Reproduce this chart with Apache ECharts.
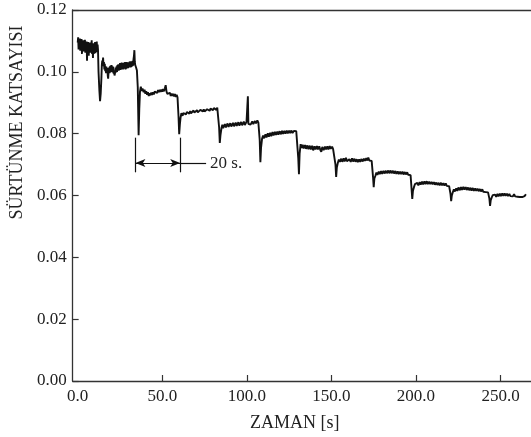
<!DOCTYPE html>
<html>
<head>
<meta charset="utf-8">
<script src="https://cdn.jsdelivr.net/npm/echarts@6/dist/echarts.min.js"></script>
<style>
html,body{margin:0;padding:0;background:#fff;}
#c{width:531px;height:437px;}
</style>
</head>
<body>
<div id="c"></div>
<script>
// ---- data (time [s], friction coefficient), one array per load step ----
var seg1 = [[0,0.1095],[0.25,0.1112],[0.5,0.1072],[0.75,0.1105],[1,0.1078],[1.25,0.1108],[1.5,0.1068],[1.75,0.1098],[2,0.1075],[2.25,0.1106],[2.5,0.1058],[2.75,0.1092],[3,0.1072],[3.25,0.1102],[3.5,0.1066],[3.75,0.1098],[4,0.1074],[4.25,0.1104],[4.5,0.1062],[4.75,0.1094],[5,0.107],[5.25,0.1098],[5.5,0.1036],[5.75,0.1092],[6,0.1072],[6.25,0.1096],[6.5,0.1052],[6.75,0.1088],[7,0.1066],[7.25,0.1094],[7.5,0.1062],[7.75,0.1095],[8,0.1068],[8.25,0.1102],[8.5,0.1058],[8.75,0.1088],[9,0.1045],[9.25,0.1092],[9.5,0.1058],[9.75,0.1084],[10,0.1064],[10.25,0.1096],[10.5,0.106],[10.75,0.1092],[11,0.1068],[11.25,0.1098],[11.5,0.1064],[11.75,0.1088],[12,0.107]];
var seg2 = [[12.3,0.100],[12.8,0.094],[13.2,0.0905],[13.6,0.093],[14,0.098],[14.25,0.1022],[14.5,0.1036],[14.75,0.1025],[15,0.1046],[15.25,0.1018],[15.5,0.1032],[15.75,0.1008],[16,0.1026],[16.25,0.1002],[16.5,0.1018],[16.75,0.0996],[17,0.1016],[17.25,0.0998],[17.5,0.1012],[17.75,0.0988],[18,0.0978],[18.25,0.1002],[18.5,0.1014],[18.75,0.0996],[19,0.1018],[19.25,0.0998],[19.5,0.102],[19.75,0.1],[20,0.1022],[20.25,0.1002],[20.5,0.1018],[20.75,0.0998],[21,0.1016],[21.25,0.0994],[21.5,0.1004],[21.75,0.0988],[22,0.0984],[22.25,0.1002],[22.5,0.1014],[22.75,0.0998],[23,0.1018],[23.25,0.1],[23.5,0.1022],[23.75,0.1004],[24,0.1024],[24.25,0.1004],[24.5,0.1022],[24.75,0.1006],[25,0.1028],[25.25,0.1006],[25.5,0.1024],[25.75,0.1008],[26,0.103],[26.25,0.101],[26.5,0.1026],[26.75,0.1008],[27,0.1028],[27.25,0.101],[27.5,0.103],[27.75,0.1012],[28,0.1032],[28.25,0.1008],[28.5,0.1026],[28.75,0.101],[29,0.1032],[29.25,0.1012],[29.5,0.1028],[29.75,0.1012],[30,0.103],[30.25,0.1014],[30.5,0.1032],[30.75,0.1014],[31,0.1034],[31.25,0.1014],[31.5,0.103],[31.75,0.1016],[32,0.1034],[32.25,0.1018],[32.5,0.1036],[32.75,0.102],[33,0.1042],[33.25,0.1052],[33.5,0.107],[33.75,0.1032],[34,0.1022],[34.5,0.1014],[35,0.1004]];
var seg3 = [[35.5,0.095],[36,0.0795],[36.4,0.088],[36.8,0.0935],[37.3,0.0952],[37.8,0.0938],[38.3,0.0946],[39,0.0934],[39.5,0.0942],[40,0.0929],[40.5,0.0937],[41,0.0926],[41.5,0.0934],[42,0.0922],[42.5,0.0931],[43,0.0924],[43.5,0.0933],[44,0.0925],[44.5,0.0934],[45,0.0927],[45.5,0.0936],[46,0.093],[46.5,0.0939],[47,0.0932],[47.5,0.0941],[48,0.0934],[48.5,0.0942],[49,0.0935],[49.5,0.0943],[50,0.0936],[50.5,0.0944],[51,0.0937],[51.5,0.0946],[52,0.0957],[52.5,0.0936],[53,0.0929],[53.5,0.0935],[54,0.0925],[54.5,0.0932],[55,0.0922],[55.5,0.093],[56,0.0922],[56.5,0.0929],[57,0.092],[57.5,0.0928],[58,0.0919],[58.5,0.0926],[59,0.0918],[59.3,0.0915]];
var seg4 = [[59.6,0.0855],[60,0.0798],[60.4,0.083],[60.8,0.0852],[61.3,0.0866],[62,0.0858],[62.5,0.0867],[63,0.0861],[63.5,0.0869],[64,0.0862],[64.5,0.087],[65,0.0864],[65.5,0.0871],[66,0.0865],[66.5,0.0873],[67,0.0866],[67.5,0.0872],[68,0.0867],[68.5,0.0875],[69,0.0868],[69.5,0.0874],[70,0.0869],[70.5,0.0876],[71,0.0869],[71.5,0.0875],[72,0.087],[72.5,0.0877],[73,0.0871],[73.5,0.0876],[74,0.0872],[74.5,0.0879],[75,0.0872],[75.5,0.0878],[76,0.0873],[76.5,0.0879],[77,0.0874],[77.5,0.088],[78,0.0874],[78.5,0.0881],[79,0.0875],[79.5,0.0881],[80,0.0876],[80.5,0.0883],[81,0.0877],[81.5,0.0882],[82,0.0877],[82.5,0.0884],[83,0.0879],[83.3,0.0878]];
var seg5 = [[83.6,0.082],[84,0.077],[84.4,0.0795],[85,0.0818],[85.5,0.0829],[86,0.0818],[87,0.0831],[87.6,0.082],[88.6,0.0833],[89.2,0.0822],[90.2,0.0834],[90.8,0.0823],[91.8,0.0835],[92.4,0.0824],[93.4,0.0836],[94,0.0825],[95,0.0837],[95.6,0.0826],[96.6,0.0838],[97.2,0.0827],[98.2,0.0839],[98.8,0.0828],[99.8,0.0838],[100.3,0.0832],[100.6,0.0921],[100.9,0.0832],[101.6,0.0838],[102.2,0.0829],[103.2,0.084],[103.8,0.0831],[104.8,0.0841],[105.4,0.0833],[106.2,0.0843],[106.8,0.0836],[107.3,0.0839]];
var seg6 = [[107.6,0.078],[108,0.0708],[108.4,0.0755],[109,0.0784],[109.6,0.0794],[110.2,0.0785],[111,0.0798],[111.6,0.0788],[112.4,0.0801],[113,0.079],[113.8,0.0803],[114.4,0.0792],[115.2,0.0805],[115.8,0.0794],[116.6,0.0806],[117.2,0.0796],[118,0.0807],[118.6,0.0797],[119.4,0.0808],[120,0.0798],[120.8,0.0809],[121.4,0.0799],[122.2,0.0809],[122.8,0.08],[123.6,0.081],[124.2,0.0801],[125,0.081],[125.6,0.0802],[126.4,0.081],[127,0.0802],[127.8,0.0809],[128.4,0.0803],[129.2,0.0808],[129.8,0.0803],[130.2,0.0805]];
var seg7 = [[130.4,0.072],[130.8,0.0669],[131.2,0.0735],[131.8,0.0766],[132.4,0.0754],[133,0.0764],[133.6,0.0752],[134.4,0.0763],[135,0.0751],[135.8,0.0762],[136.4,0.075],[137.2,0.0761],[137.8,0.0749],[138.6,0.0761],[139.2,0.0746],[140,0.0759],[140.6,0.0749],[141.4,0.076],[142,0.0749],[142.8,0.0759],[143.4,0.0748],[144,0.0741],[144.6,0.0757],[145.4,0.0747],[146.2,0.0758],[146.8,0.0749],[147.6,0.0759],[148.2,0.0749],[149,0.076],[149.6,0.0751],[150.4,0.0758],[151,0.075],[151.6,0.0756],[152.1,0.0751]];
var seg8 = [[152.4,0.07],[152.8,0.066],[153.2,0.069],[153.8,0.0706],[154.4,0.0716],[155,0.0709],[155.8,0.0719],[156.4,0.0709],[157.2,0.072],[157.8,0.071],[158.6,0.0722],[159.2,0.0711],[160,0.0705],[160.6,0.0717],[161.4,0.0709],[162.2,0.072],[162.8,0.071],[163.6,0.0719],[164.2,0.0709],[165,0.0717],[165.6,0.0708],[166.4,0.0717],[167,0.0709],[167.8,0.0718],[168.4,0.071],[169.2,0.0719],[169.8,0.0712],[170.6,0.0721],[171.2,0.0713],[171.8,0.0723],[172.4,0.0713],[173.2,0.0719],[173.8,0.0712],[174.3,0.0714]];
var seg9 = [[174.6,0.066],[175,0.0627],[175.4,0.0655],[176,0.0664],[176.6,0.0674],[177.2,0.0667],[178,0.0677],[178.6,0.0669],[179.4,0.0679],[180,0.067],[180.8,0.068],[181.4,0.0671],[182.2,0.068],[182.8,0.0672],[183.6,0.0681],[184.2,0.0672],[185,0.0681],[185.6,0.0672],[186.4,0.068],[187,0.0671],[187.8,0.0679],[188.4,0.067],[189.2,0.0678],[189.8,0.0669],[190.6,0.0677],[191.2,0.0669],[192,0.0677],[192.6,0.0668],[193.4,0.0676],[194,0.0668],[194.8,0.0675],[195.4,0.0667],[196.2,0.0671],[196.8,0.0666],[197.1,0.0668]];
var seg10 = [[197.4,0.062],[197.8,0.0589],[198.2,0.0615],[198.8,0.0627],[199.4,0.0637],[200,0.0631],[200.8,0.0641],[201.4,0.0633],[202.2,0.0643],[202.8,0.0635],[203.6,0.0645],[204.2,0.0636],[205,0.0646],[205.6,0.0637],[206.4,0.0646],[207,0.0637],[207.8,0.0645],[208.4,0.0637],[209.2,0.0644],[209.8,0.0636],[210.6,0.0643],[211.2,0.0635],[212,0.0642],[212.6,0.0634],[213.4,0.0641],[214,0.0633],[214.8,0.0641],[215.4,0.0633],[216.2,0.064],[216.8,0.0632],[217.6,0.0639],[218.2,0.0631],[219,0.0636],[219.6,0.063],[220.1,0.0633]];
var seg11 = [[220.4,0.0605],[220.8,0.0582],[221.2,0.06],[221.8,0.0611],[222.4,0.062],[223,0.0613],[223.8,0.0623],[224.4,0.0615],[225.2,0.0626],[225.8,0.0617],[226.6,0.0627],[227.2,0.0618],[228,0.0628],[228.6,0.0619],[229.4,0.0627],[230,0.0618],[230.8,0.0626],[231.4,0.0617],[232.2,0.0625],[232.8,0.0616],[233.6,0.0624],[234.2,0.0615],[235,0.0623],[235.6,0.0615],[236.4,0.0622],[237,0.0614],[237.8,0.0621],[238.4,0.0613],[239.2,0.062],[239.8,0.0612],[240.6,0.0618],[241.2,0.0611],[242,0.0616],[242.6,0.061],[243.1,0.0612]];
var seg12 = [[243.4,0.059],[243.8,0.0566],[244.2,0.0585],[244.8,0.0594],[245.4,0.0601],[246,0.0595],[246.8,0.0603],[247.4,0.0596],[248.2,0.0605],[248.8,0.0597],[249.6,0.0606],[250.2,0.0598],[251,0.0607],[251.6,0.0599],[252.4,0.0607],[253,0.0599],[253.8,0.0606],[254.4,0.0598],[255.2,0.0605],[255.8,0.0598],[256.6,0.0604],[257.2,0.0597],[258,0.0604],[258.6,0.0597],[259.4,0.0603],[260,0.0596],[260.8,0.0602],[261.4,0.0595],[262.2,0.0601],[262.8,0.0595],[263.6,0.0601],[264.2,0.0598],[265,0.0604]];

var xLabelValues = [0, 50, 100, 150, 200, 250];
var xTickValues = [50, 100, 150, 200, 250];

// 20 s. annotation (data coordinates)
var bracketX = [34.1, 60.6];
var bracketY = 0.0705;
var bracketBar = [0.0675, 0.0787];
var leaderEndX = 75.9;
var bracketLabel = '20 s.';

var series = [].concat(seg1, seg2, seg3, seg4, seg5, seg6, seg7, seg8, seg9, seg10, seg11, seg12);

var FONT = 'Liberation Serif';
var chart = echarts.init(document.getElementById('c'), null, {renderer: 'canvas'});
chart.setOption({
  animation: false,
  backgroundColor: '#fff',
  grid: {left: 70, top: 10, right: 0, bottom: 54, containLabel: false},
  xAxis: [{
    type: 'value', min: -3, max: 268,
    name: 'ZAMAN [s]', nameLocation: 'middle', nameGap: 33,
    nameTextStyle: {fontFamily: FONT, fontSize: 18, color: '#222', padding: [0, 14, 0, 0]},
    axisLine: {show: true, onZero: false, lineStyle: {color: '#333', width: 1.3}},
    axisTick: {show: true, inside: true, length: 6, customValues: xTickValues, lineStyle: {color: '#333', width: 1.2}},
    axisLabel: {customValues: xLabelValues, margin: 7, fontFamily: FONT, fontSize: 17, color: '#222',
      formatter: function (v) { return v.toFixed(1); }},
    splitLine: {show: false}
  }, {
    type: 'value', position: 'top', min: -3, max: 268,
    axisLine: {show: true, onZero: false, lineStyle: {color: '#333', width: 1.3}},
    axisTick: {show: false}, axisLabel: {show: false}, splitLine: {show: false}
  }],
  yAxis: {
    type: 'value', min: 0, max: 0.12, interval: 0.02,
    name: 'SÜRTÜNME KATSAYISI', nameLocation: 'middle', nameGap: 37, nameRotate: 90,
    nameTextStyle: {fontFamily: FONT, fontSize: 18, color: '#222', padding: [0, 0, 0, 146]},
    axisLine: {show: true, onZero: false, lineStyle: {color: '#333', width: 1.3}},
    axisTick: {show: true, inside: true, length: 6, lineStyle: {color: '#333', width: 1.2}},
    axisLabel: {margin: 6, fontFamily: FONT, fontSize: 17, color: '#222',
      formatter: function (v) { return v.toFixed(2); }},
    splitLine: {show: false}
  },
  series: [{
    type: 'line',
    data: series,
    showSymbol: false,
    symbol: 'none',
    lineStyle: {color: '#111', width: 1.9},
    silent: true,
    markLine: {
      silent: true,
      animation: false,
      symbol: 'none',
      lineStyle: {color: '#111', width: 1.2, type: 'solid'},
      label: {show: false},
      data: [
        [{coord: [bracketX[0], bracketY], symbol: 'arrow', symbolSize: [6, 10]},
         {coord: [bracketX[1], bracketY], symbol: 'arrow', symbolSize: [6, 10]}],
        [{coord: [bracketX[0], bracketBar[0]]}, {coord: [bracketX[0], bracketBar[1]]}],
        [{coord: [bracketX[1], bracketBar[0]]}, {coord: [bracketX[1], bracketBar[1]]}],
        [{coord: [bracketX[1], bracketY]},
         {coord: [leaderEndX, bracketY],
          label: {show: true, position: 'end', distance: 4, formatter: bracketLabel,
                  fontFamily: FONT, fontSize: 17, color: '#222'}}]
      ]
    }
  }]
});
</script>
</body>
</html>
